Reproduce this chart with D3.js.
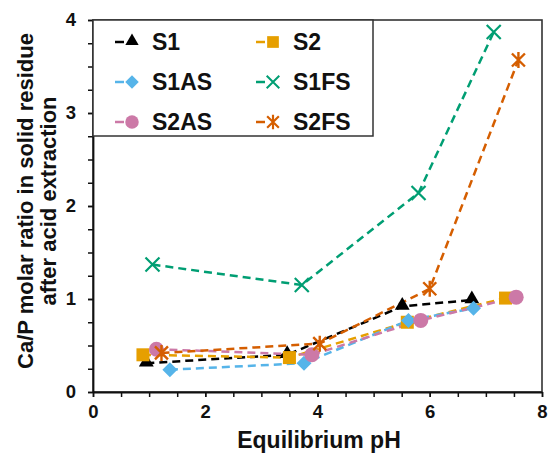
<!DOCTYPE html>
<html>
<head>
<meta charset="utf-8">
<script src="https://cdn.jsdelivr.net/npm/d3@7"></script>
<style>
  body { margin: 0; background: #fff; }
  text { font-family: "Liberation Sans", Arial, sans-serif; font-weight: bold; fill: #111; }
</style>
</head>
<body>
<svg id="chart" width="552" height="458"></svg>
<script>
// values
var seriesNames = ["S1", "S2", "S1AS", "S1FS", "S2AS", "S2FS"];
var s1pH    = [0.95, 3.46, 5.51, 6.75];
var s1Ratio = [0.31, 0.40, 0.92, 0.99];
var s2pH    = [0.89, 3.50, 5.60, 7.35];
var s2Ratio = [0.40, 0.37, 0.75, 1.01];
var s1asPH    = [1.37, 3.76, 5.62, 6.78];
var s1asRatio = [0.24, 0.31, 0.77, 0.90];
var s1fsPH    = [1.06, 3.72, 5.80, 7.14];
var s1fsRatio = [1.37, 1.15, 2.14, 3.87];
var s2asPH    = [1.13, 3.90, 5.84, 7.54];
var s2asRatio = [0.46, 0.40, 0.77, 1.02];
var s2fsPH    = [1.22, 4.04, 6.00, 7.58];
var s2fsRatio = [0.42, 0.52, 1.11, 3.57];
var xTicks = [0, 2, 4, 6, 8];
var yTicks = [0, 1, 2, 3, 4];

var colors = ["#000000", "#E69F00", "#56B4E9", "#009E73", "#CC79A7", "#D55E00"];
var shapes = ["triangle", "square", "diamond", "x", "circle", "asterisk"];
var pHs = [s1pH, s2pH, s1asPH, s1fsPH, s2asPH, s2fsPH];
var ratios = [s1Ratio, s2Ratio, s1asRatio, s1fsRatio, s2asRatio, s2fsRatio];

var series = seriesNames.map(function(name, i) {
  return {
    name: name, color: colors[i], shape: shapes[i],
    points: pHs[i].map(function(p, j) { return { x: p, y: ratios[i][j] }; })
  };
});

var svg = d3.select("#chart");
var pLeft = 93, pRight = 542, pTop = 20, pBottom = 392;

var x = d3.scaleLinear().domain([0, 8]).range([pLeft, pRight]);
var y = d3.scaleLinear().domain([0, 4]).range([pBottom, pTop]);

// plot frame
svg.append("rect")
    .attr("x", pLeft).attr("y", pTop)
    .attr("width", pRight - pLeft).attr("height", pBottom - pTop)
    .attr("fill", "none").attr("stroke", "#333").attr("stroke-width", 1.6);

// minor ticks
svg.append("g")
    .attr("transform", "translate(0," + pBottom + ")")
    .call(d3.axisBottom(x).tickValues(d3.range(0, 8.01, 0.5)).tickSize(5).tickFormat(""))
    .call(function(g) { g.select(".domain").remove(); g.selectAll("line").attr("stroke-width", 1.5).attr("stroke", "#111"); });
svg.append("g")
    .attr("transform", "translate(" + pLeft + ",0)")
    .call(d3.axisLeft(y).tickValues(d3.range(0, 4.01, 0.25)).tickSize(5).tickFormat(""))
    .call(function(g) { g.select(".domain").remove(); g.selectAll("line").attr("stroke-width", 1.5).attr("stroke", "#111"); });

// axes with labels
var xAxis = svg.append("g")
    .attr("transform", "translate(0," + pBottom + ")")
    .call(d3.axisBottom(x).tickValues(xTicks).tickFormat(d3.format("d")).tickSize(5).tickPadding(8).tickSizeOuter(0));
var yAxis = svg.append("g")
    .attr("transform", "translate(" + pLeft + ",0)")
    .call(d3.axisLeft(y).tickValues(yTicks).tickFormat(d3.format("d")).tickSize(5).tickPadding(12).tickSizeOuter(0));
[xAxis, yAxis].forEach(function(g) {
  g.select(".domain").attr("stroke", "#111").attr("stroke-width", 1.8);
  g.selectAll("line").attr("stroke", "#111").attr("stroke-width", 1.5);
  g.selectAll("text").attr("font-size", 18.5).attr("font-weight", "bold")
      .attr("font-family", "Liberation Sans, Arial, sans-serif").attr("fill", "#111");
});

// titles
svg.append("text")
    .attr("x", 319).attr("y", 448)
    .attr("text-anchor", "middle").attr("font-size", 23)
    .text("Equilibrium pH");
var yTitle = svg.append("text")
    .attr("transform", "translate(0,201) rotate(-90)")
    .attr("text-anchor", "middle").attr("font-size", 22);
yTitle.append("tspan").attr("x", 0).attr("y", 33).text("Ca/P molar ratio in solid residue");
yTitle.append("tspan").attr("x", 0).attr("y", 56).text("after acid extraction");

function drawMarker(g, shape, color) {
  if (shape === "triangle") {
    g.append("path").attr("d", d3.symbol(d3.symbolTriangle, 95)()).attr("fill", color)
        .attr("transform", "translate(0,-1)");
  } else if (shape === "square") {
    g.append("rect").attr("x", -6.5).attr("y", -6.5).attr("width", 13).attr("height", 13).attr("fill", color);
  } else if (shape === "diamond") {
    g.append("path").attr("d", "M0,-7.5L7.5,0L0,7.5L-7.5,0Z").attr("fill", color);
  } else if (shape === "circle") {
    g.append("circle").attr("r", 7.5).attr("fill", color);
  } else if (shape === "x") {
    g.append("path").attr("d", "M-7,-7L7,7M-7,7L7,-7").attr("stroke", color).attr("stroke-width", 2.2).attr("fill", "none");
  } else if (shape === "asterisk") {
    g.append("path").attr("d", "M-6.5,-6.5L6.5,6.5M-6.5,6.5L6.5,-6.5M0,-8L0,8")
        .attr("stroke", color).attr("stroke-width", 2.4).attr("fill", "none");
  }
}

var line = d3.line().x(function(d) { return x(d.x); }).y(function(d) { return y(d.y); });

series.forEach(function(s) {
  svg.append("path")
      .datum(s.points)
      .attr("d", line)
      .attr("fill", "none")
      .attr("stroke", s.color)
      .attr("stroke-width", 2.5)
      .attr("stroke-dasharray", "8,5");
});
series.forEach(function(s) {
  s.points.forEach(function(p) {
    var g = svg.append("g").attr("transform", "translate(" + x(p.x) + "," + y(p.y) + ")");
    drawMarker(g, s.shape, s.color);
  });
});

// legend
var legend = svg.append("g");
legend.append("rect")
    .attr("x", pLeft).attr("y", pTop)
    .attr("width", 280).attr("height", 116)
    .attr("fill", "#fff").attr("stroke", "#333").attr("stroke-width", 1.5);
series.forEach(function(s, i) {
  var col = i % 2, row = Math.floor(i / 2);
  var cx = col === 0 ? 132 : 273;
  var cy = 42 + row * 40;
  var g = legend.append("g").attr("transform", "translate(" + cx + "," + cy + ")");
  g.append("line").attr("x1", -17).attr("x2", -8).attr("y1", 0).attr("y2", 0)
      .attr("stroke", s.color).attr("stroke-width", 2.5);
  var m = g.append("g").attr("transform", "scale(0.9)");
  drawMarker(m, s.shape, s.color);
  legend.append("text")
      .attr("x", cx + 20).attr("y", cy + 8)
      .attr("font-size", 23)
      .text(s.name);
});
</script>
</body>
</html>
